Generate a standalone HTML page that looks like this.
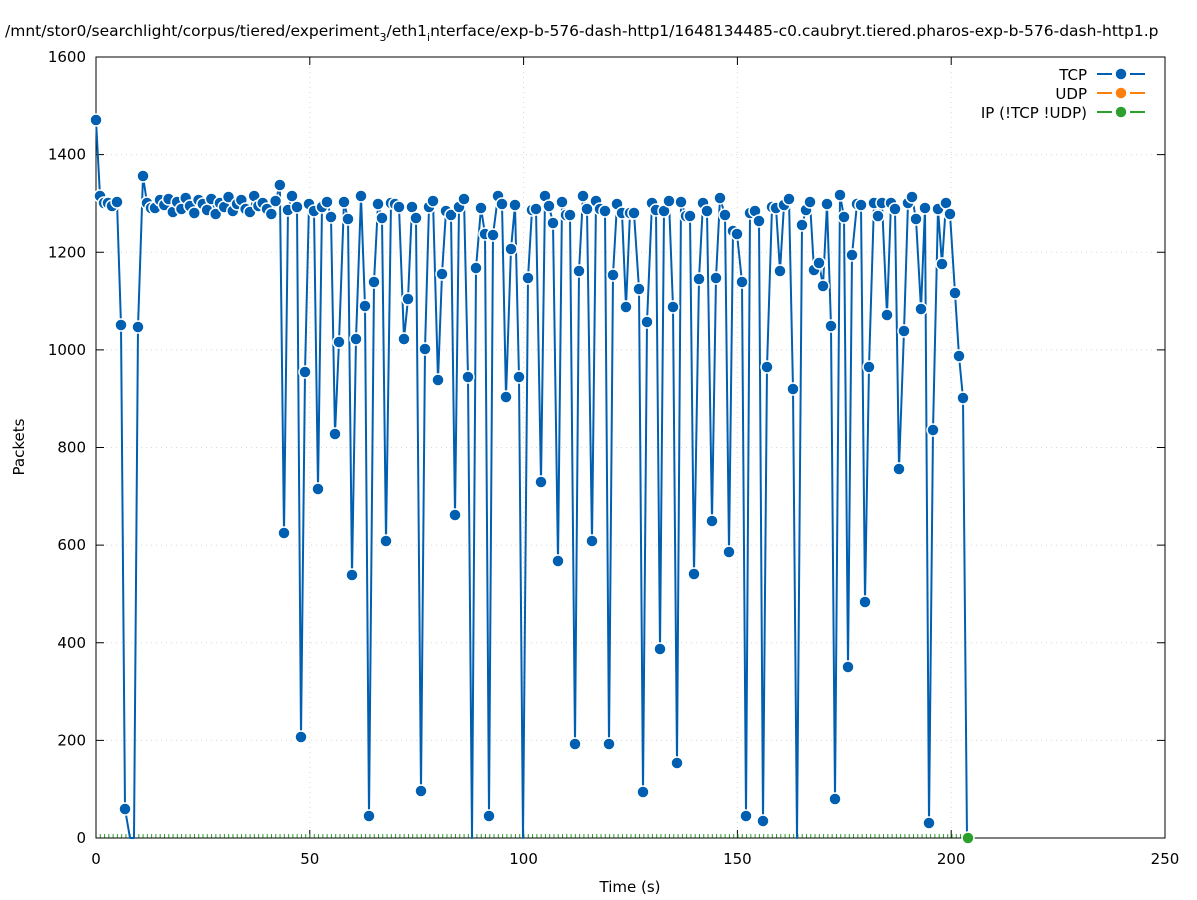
<!DOCTYPE html>
<html><head><meta charset="utf-8"><style>
html,body{margin:0;padding:0;background:#fff;width:1197px;height:900px;overflow:hidden}
svg text{font-family:"DejaVu Sans","Liberation Sans",sans-serif;fill:#000}
</style></head><body>
<svg id="s" width="1197" height="900" xmlns="http://www.w3.org/2000/svg">
<text x="5" y="36" font-size="15.5">/mnt/stor0/searchlight/corpus/tiered/experiment<tspan font-size="11" dy="5">3</tspan><tspan dy="-5">/eth1</tspan><tspan font-size="11" dy="5">i</tspan><tspan dy="-5">nterface/exp-b-576-dash-http1/1648134485-c0.caubryt.tiered.pharos-exp-b-576-dash-http1.p</tspan></text>
<g id="grid" stroke="#d8d8d8" stroke-dasharray="1,4" stroke-width="1"></g>
<g id="ticks" stroke="#000" stroke-width="1"></g>
<g id="gt" stroke="#2ca02c" stroke-width="1"></g>
<rect x="96" y="57" width="1069" height="781" fill="none" stroke="#000" stroke-width="1"/>
<g id="lab" font-size="15"></g>
<text x="630" y="892" font-size="15" text-anchor="middle">Time (s)</text>
<text x="24" y="447" font-size="15" text-anchor="middle" transform="rotate(-90 24 447)">Packets</text>
<g id="data"></g>
<g font-size="15" text-anchor="end">
<text x="1087" y="80">TCP</text><text x="1087" y="99">UDP</text><text x="1087" y="118">IP (!TCP  !UDP)</text>
</g>
<g stroke-width="2">
<path d="M1097 74H1112M1130 74H1145" stroke="#005fb0"/><circle cx="1121" cy="74" r="6" fill="#005fb0" stroke="#fff" stroke-width="1.5"/>
<path d="M1097 93H1112M1130 93H1145" stroke="#ff7f0e"/><circle cx="1121" cy="93" r="6" fill="#ff7f0e" stroke="#fff" stroke-width="1.5"/>
<path d="M1097 112H1112M1130 112H1145" stroke="#2ca02c"/><circle cx="1121" cy="112" r="6" fill="#2ca02c" stroke="#fff" stroke-width="1.5"/>
</g>
</svg>
<script>
var NS="http://www.w3.org/2000/svg";
function el(p,t,a,txt){var e=document.createElementNS(NS,t);for(var k in a)e.setAttribute(k,a[k]);if(txt!=null)e.textContent=txt;document.getElementById(p).appendChild(e);return e;}
for(var i=0;i<=8;i++){var y=838-i*97.625;if(i>0&&i<8)el("grid","line",{x1:96,x2:1165,y1:y,y2:y});el("ticks","line",{x1:96,x2:104,y1:y,y2:y});el("ticks","line",{x1:1157,x2:1165,y1:y,y2:y});el("lab","text",{x:86,y:y+5,"text-anchor":"end"},String(i*200));}
for(var i=0;i<=5;i++){var x=96+i*213.8;if(i>0&&i<5)el("grid","line",{x1:x,x2:x,y1:57,y2:838});el("ticks","line",{x1:x,x2:x,y1:838,y2:830});el("ticks","line",{x1:x,x2:x,y1:57,y2:65});el("lab","text",{x:x,y:864,"text-anchor":"middle"},String(i*50));}
for(var x=96;x<=968;x+=4.28)el("gt","line",{x1:x,x2:x,y1:838,y2:834});
var pts=[[96,120],[100,196],[104,203],[108,203],[112,206],[117,202],[121,325],[125,809],[130,838],[134,838],[138,327],[143,176],[147,203],[151,208],[155,208],[160,200]];
var flat=[205,199,212,202,209,198,206,213,200,204,210,199,214,203,207,197,211,204,200,209,212,196,206,203,209,214,201,185,208,210,204,212];
var x=164.3;for(var i=0;x<282;i++,x+=4.28)pts.push([x,flat[i%flat.length]]);
var rest=[[284,533],[288,210],[292,196],[297,207],[301,737],[305,372],[309,204],[314,211],[318,489],[322,207],[327,202],[331,217],[335,434],[339,342],[344,202],[348,219],[352,575],[356,339],[361,196],[365,306],[369,816],[374,282],[378,204],[382,218],[386,541],[391,203],[395,204],[399,207],[404,339],[408,299],[412,207],[416,218],[421,791],[425,349],[429,207],[433,201],[438,380],[442,274],[446,211],[451,215],[455,515],[459,207],[464,199],[468,377],[472,838],[476,268],[481,208],[485,234],[489,816],[493,235],[498,196],[502,204],[506,397],[511,249],[515,205],[519,377],[523,838],[528,278],[532,210],[536,209],[541,482],[545,196],[549,206],[553,223],[558,561],[562,202],[566,215],[570,215],[575,744],[579,271],[583,196],[587,209],[592,541],[596,201],[600,209],[605,211],[609,744],[613,275],[617,204],[622,213],[626,307],[630,213],[634,213],[639,289],[643,792],[647,322],[652,203],[656,210],[660,649],[664,211],[669,201],[673,307],[677,763],[681,202],[686,216],[690,216],[694,574],[699,279],[703,203],[707,211],[712,521],[716,278],[720,198],[725,215],[729,552],[733,231],[737,234],[742,282],[746,816],[750,213],[755,211],[759,221],[763,821],[767,367],[772,207],[776,208],[780,271],[784,205],[789,199],[793,389],[797,838],[802,225],[806,210],[810,202],[814,270],[819,263],[823,286],[827,204],[831,326],[835,799],[840,195],[844,217],[848,667],[852,255],[857,204],[861,205],[865,602],[869,367],[874,203],[878,216],[882,203],[887,315],[891,203],[895,209],[899,469],[904,331],[908,203],[912,197],[916,219],[921,309],[925,208],[929,823],[933,430],[938,209],[942,264],[946,203],[950,214],[955,293],[959,356],[963,398],[967,838]];
pts=pts.concat(rest);
var d="M"+pts.map(function(p){return p[0]+","+p[1]}).join("L");
el("data","path",{d:d,fill:"none",stroke:"#005fb0","stroke-width":2,"stroke-linejoin":"round"});
pts.forEach(function(p){if(p[1]<838)el("data","circle",{cx:p[0],cy:p[1],r:6,fill:"#005fb0",stroke:"#fff","stroke-width":1.5});});
el("data","circle",{cx:968,cy:838,r:6,fill:"#2ca02c",stroke:"#fff","stroke-width":1.5});
</script>
</body></html>
